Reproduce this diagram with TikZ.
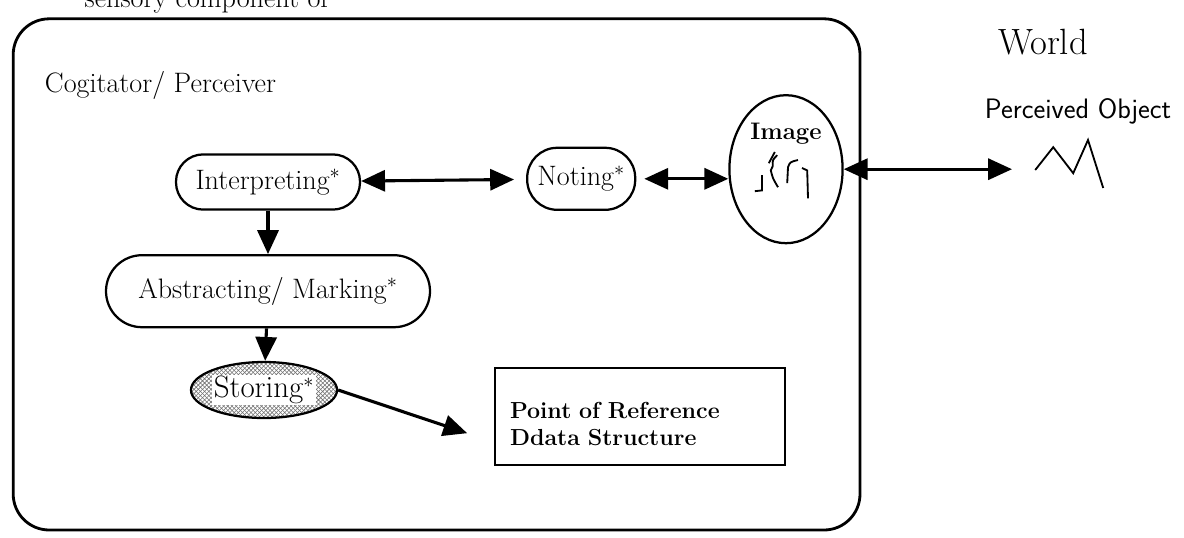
\documentclass[tikz,border=0pt]{standalone}
\usepackage{fontspec}
\usepackage{amsmath}
\usetikzlibrary{arrows.meta,patterns,shapes.geometric,calc}

\begin{document}
\begin{tikzpicture}[
  every node/.style={font=\fontsize{20}{24}\selectfont},
  stage/.style={draw, line width=1.6pt, inner sep=2pt},
  tip/.style={-{Triangle[length=17pt,width=15pt]}, line width=2.2pt},
  twotip/.style={{Triangle[length=17pt,width=15pt]}-{Triangle[length=17pt,width=15pt]}, line width=2.2pt}
]
\useasboundingbox (0,0) rectangle (29.6,-13.425);

% text cut off at the top of the scan
\node [anchor=base east] (cut) at (8.33,-0.2) {sensory component of};

% the perceiver
\draw [line width=2pt, rounded corners=0.9cm] (0.33,-0.47) rectangle (21.5,-13.25);
\node [anchor=base west] (cogit) at (1.0,-2.3) {Cogitator/ Perceiver};

\node [stage, rounded corners=0.68cm, minimum width=4.6cm, minimum height=1.38cm] (interp) at (6.7,-4.55) {Interpreting$^*$};
\node [stage, rounded corners=0.75cm, minimum width=2.7cm, minimum height=1.55cm] (noting) at (14.53,-4.47) {Noting$^*$};
\node [stage, ellipse, minimum width=2.83cm, minimum height=3.7cm,
  label={[anchor=north, yshift=-0.6cm, font=\fontsize{17}{20}\selectfont\bfseries]north:Image}] (img) at (19.65,-4.23) {};
\node [stage, rounded corners=0.9cm, minimum width=8.1cm, minimum height=1.8cm] (abs) at (6.7,-7.28) {Abstracting/ Marking$^*$};
\node [stage, ellipse, inner sep=0pt, minimum width=2.95cm, minimum height=1.4cm, pattern=crosshatch, pattern color=black!55, font=\fontsize{22}{26}\selectfont] (store) at (6.6,-9.75) {\setlength{\fboxsep}{1pt}\colorbox{white}{Storing$^*$}};
\node [draw, line width=1.4pt, minimum width=7.25cm, minimum height=2.43cm, inner xsep=0.375cm, text width=6.5cm, align=left, font=\fontsize{16.5}{19}\selectfont\bfseries] (pref) at (16.0,-10.41) {\rule{0pt}{22pt}Point of Reference\\ Ddata Structure};

% squiggle inside the image
\draw [line width=1.3pt] ($(img)+(-0.6,-0.15)$) -- ++(0,-0.38) -- ++(-0.18,-0.02);
\draw [line width=1.3pt] ($(img)+(-0.28,0.43)$) -- ++(-0.15,-0.28);
\draw [line width=1.3pt] ($(img)+(-0.22,0.35)$) .. controls ++(-0.12,-0.12) .. ++(-0.11,-0.27) -- ++(-0.05,-0.11) .. controls ++(0.05,-0.2) .. ++(0.18,-0.42);
\draw [line width=1.3pt] ($(img)+(0.3,0.23)$) .. controls ++(-0.2,-0.05) .. ++(-0.25,-0.18) -- ++(-0.02,-0.4);
\draw [line width=1.3pt] ($(img)+(0.4,0.03)$) -- ++(0.13,-0.06) -- ++(0.02,-0.7);

% the world
\node [anchor=base west, font=\fontsize{26}{30}\selectfont] (world) at (24.83,-1.375) {World};
\node [anchor=base west, font=\fontsize{20}{24}\selectfont\sffamily] (pobj) at (24.5,-2.95) {Perceived Object};
\draw [line width=1.3pt] (25.88,-4.25) -- (26.33,-3.68) -- (26.83,-4.33) -- (27.2,-3.5) -- (27.58,-4.7);
\coordinate (obj) at (25.3,-4.23);
\coordinate (storetip) at (11.68,-10.83);

% connectors
\draw [twotip, shorten >=0.3cm] (interp) -- (noting);
\draw [twotip, shorten <=0.2cm] (noting.east) -- (noting.east -| img.west);
\draw [twotip] (img.east) -- (obj);
\draw [tip] (interp) -- (abs);
\draw [tip] (abs) -- (store);
\draw [tip] (store.east) -- (storetip);
\end{tikzpicture}
\end{document}
